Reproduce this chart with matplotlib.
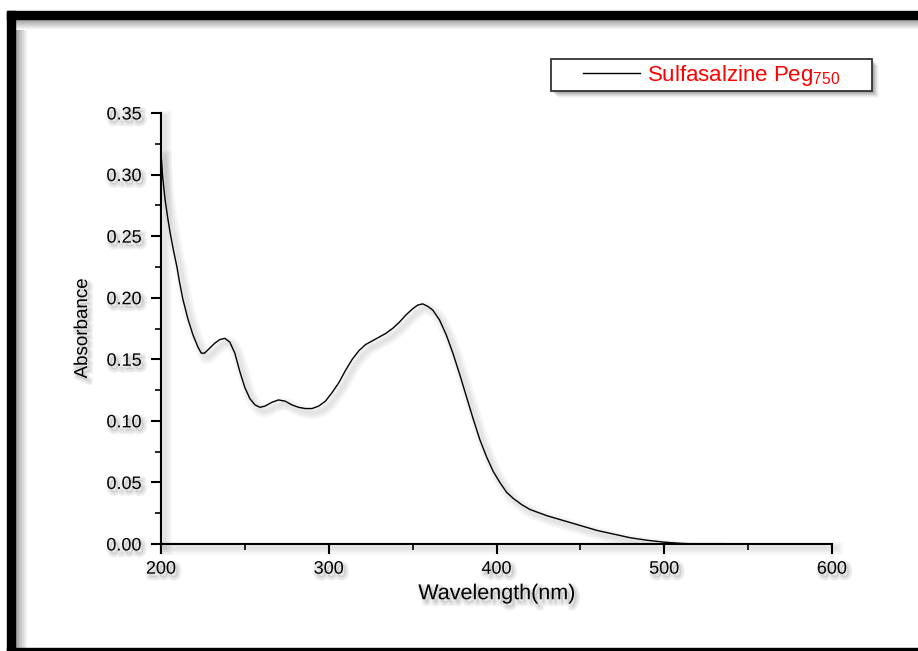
import matplotlib
matplotlib.use("Agg")
import matplotlib.pyplot as plt
import matplotlib.patheffects as pe
from matplotlib.patches import Rectangle
from matplotlib.lines import Line2D
import numpy as np

plt.rcParams['font.family'] = ['Liberation Sans', 'DejaVu Sans']

# UV-Vis absorbance spectrum
wavelength = [200, 201, 202.4, 204, 205.4, 207.5, 209.5, 211, 213, 216, 219, 222, 224, 226,
              229, 232, 235, 238, 241, 244, 247, 250, 253, 256, 259, 262, 266, 270,
              274, 278, 282, 286, 290, 294, 298, 302, 306, 310, 314, 318, 322, 326,
              330, 334, 338, 342, 346, 350, 353, 356, 359, 362, 366, 370, 374, 378,
              382, 386, 390, 394, 398, 402, 406, 410, 415, 420, 430, 440, 450, 460,
              470, 480, 490, 500, 510, 520, 530]
absorbance = [0.318, 0.298, 0.280, 0.265, 0.253, 0.238, 0.225, 0.213, 0.199, 0.183, 0.170, 0.160,
              0.155, 0.155, 0.159, 0.163, 0.166, 0.167, 0.164, 0.155, 0.140, 0.127, 0.118,
              0.113, 0.111, 0.112, 0.115, 0.117, 0.116, 0.113, 0.111, 0.110, 0.110, 0.112,
              0.116, 0.123, 0.131, 0.141, 0.150, 0.157, 0.162, 0.165, 0.168, 0.171, 0.175,
              0.180, 0.186, 0.191, 0.194, 0.195, 0.193, 0.190, 0.182, 0.170, 0.155, 0.138,
              0.120, 0.102, 0.085, 0.071, 0.059, 0.050, 0.042, 0.037, 0.032, 0.028, 0.023,
              0.019, 0.015, 0.011, 0.008, 0.005, 0.003, 0.0015, 0.0005, 0.0, 0.0]
series_label = 'Sulfasalzine Peg$_\\mathregular{750}$'

W, H = 918, 651


def soft_shadow(dx=3, dy=-3, widths=(9, 6, 3), alpha=0.035, color='k'):
    fx = [pe.Stroke(offset=(dx, dy), linewidth=w, foreground=color, alpha=alpha) for w in widths]
    return fx + [pe.Normal()]


text_shadow = dict(dx=2, dy=-2.5, widths=(5, 3), alpha=0.05)

fig = plt.figure(figsize=(W / 100, H / 100), dpi=100)

# page frame drawn in pixel coordinates
frame = fig.add_axes([0, 0, 1, 1], zorder=0)
frame.set_xlim(0, W)
frame.set_ylim(H, 0)
frame.axis('off')
grad = np.linspace(0.6, 1.0, 40)[None, :]
frame.imshow(np.repeat(grad, 2, axis=0), cmap='gray', vmin=0, vmax=1,
             extent=(15, 28, H, 19), aspect='auto', zorder=1)
frame.imshow(np.repeat(grad.T, 2, axis=1), cmap='gray', vmin=0, vmax=1,
             extent=(15, W, 30, 19), aspect='auto', zorder=1)
frame.add_patch(Rectangle((7, 11), W - 7, 8, color='black', zorder=3))
frame.add_patch(Rectangle((7, 11), 8, H - 11, color='black', zorder=3))
frame.add_patch(Rectangle((7, 648), W - 7, 3, color='black', zorder=3))

# legend box with drop shadow
for i, a in enumerate([0.09, 0.08, 0.07, 0.05, 0.04, 0.03]):
    frame.add_patch(Rectangle((551 + 2 + i, 59 + 2 + i), 321, 32, color='k', alpha=a,
                              lw=0, zorder=2))
frame.add_patch(Rectangle((551, 59), 321, 32, facecolor='white', edgecolor='#333333',
                          lw=1.3, zorder=4))

ax = fig.add_axes([161 / W, (H - 544) / H, (832 - 161) / W, (544 - 113) / H], zorder=2)
ax.patch.set_alpha(0)

line, = ax.plot(wavelength, absorbance, color='black', lw=1.0, label=series_label,
                path_effects=soft_shadow())

frame.add_line(Line2D([583, 640], [73, 73], color='black', lw=1.0, zorder=5))
frame.text(647, 75, series_label, color='red', fontsize=16, va='center', ha='left',
           zorder=5)

ax.set_xlim(200, 600)
ax.set_ylim(0, 0.35)
ax.set_xticks([200, 300, 400, 500, 600])
ax.set_xticks([250, 350, 450, 550], minor=True)
ax.set_yticks(np.arange(0, 0.351, 0.05))
ax.set_yticks(np.arange(0.025, 0.35, 0.05), minor=True)
ax.yaxis.set_major_formatter(plt.FormatStrFormatter('%.2f'))

for side in ['top', 'right']:
    ax.spines[side].set_visible(False)
for side in ['left', 'bottom']:
    ax.spines[side].set_linewidth(1.5)
    ax.spines[side].set_path_effects(soft_shadow())

ax.tick_params(which='major', direction='out', length=7, width=1.5, labelsize=13)
ax.tick_params(axis='y', which='major', pad=7)
ax.tick_params(axis='x', which='major', pad=5)
ax.tick_params(which='minor', direction='out', length=4, width=1.2)
for lbl in ax.get_xticklabels() + ax.get_yticklabels():
    lbl.set_path_effects(soft_shadow(**text_shadow))

ax.set_xlabel('Wavelength(nm)', fontsize=15.5, labelpad=4,
              path_effects=soft_shadow(**text_shadow))
ax.set_ylabel('Absorbance', fontsize=13.5, labelpad=11,
              path_effects=soft_shadow(**text_shadow))

fig.savefig('out.png', dpi=100)
